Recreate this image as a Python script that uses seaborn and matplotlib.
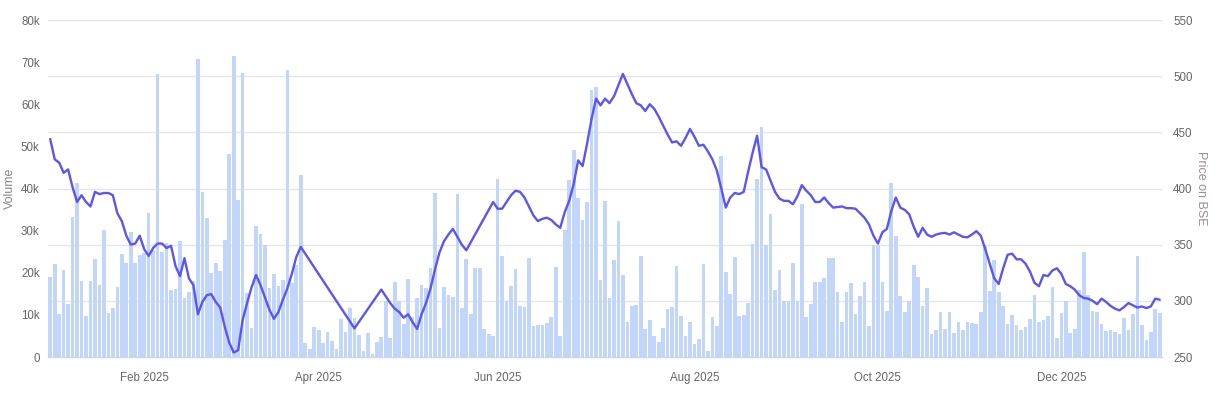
import matplotlib
matplotlib.use("Agg")
import matplotlib.pyplot as plt
import numpy as np
import pandas as pd
import seaborn as sns

# daily volume, in thousands of shares (one value per trading day of 2025)
volume_k = [
    18.9, 22.1, 10.3, 20.6, 12.7, 33.2, 41.2, 18.0, 9.8, 18.1,
    23.3, 17.0, 30.1, 10.5, 11.7, 16.7, 24.5, 22.4, 29.7, 22.4,
    24.3, 24.6, 34.3, 25.5, 67.2, 25.0, 27.0, 16.0, 16.2, 27.6,
    14.0, 15.5, 18.0, 70.7, 39.2, 33.0, 20.0, 22.2, 20.4, 27.8,
    48.1, 71.4, 37.2, 67.3, 15.2, 7.0, 31.0, 29.1, 26.7, 16.4,
    19.7, 16.9, 18.2, 68.1, 17.5, 21.9, 43.2, 3.4, 2.0, 7.2,
    6.3, 3.3, 6.0, 3.9, 2.0, 9.0, 6.0, 11.7, 9.2, 5.2,
    1.5, 5.8, 0.8, 3.5, 4.7, 13.4, 4.6, 17.9, 13.4, 7.9,
    18.6, 9.5, 14.0, 17.0, 16.3, 21.2, 39.0, 7.0, 16.5, 14.8,
    14.3, 38.6, 11.6, 23.3, 10.3, 21.1, 21.2, 6.7, 5.5, 5.0,
    42.3, 23.9, 13.3, 16.8, 20.9, 12.1, 11.9, 23.5, 7.3, 7.6,
    7.7, 8.0, 9.4, 21.4, 5.1, 30.2, 42.1, 49.2, 37.8, 32.6,
    36.7, 63.5, 64.2, 18.3, 37.0, 14.0, 23.0, 32.2, 19.5, 8.3,
    12.2, 12.4, 23.9, 6.6, 8.8, 5.1, 3.5, 7.0, 11.5, 11.9,
    21.6, 9.7, 5.1, 8.2, 3.2, 4.2, 22.1, 1.4, 9.6, 7.4,
    47.6, 20.2, 14.9, 23.8, 9.8, 10.0, 12.8, 26.8, 42.3, 54.7,
    26.6, 34.0, 15.9, 20.7, 13.4, 13.4, 22.3, 13.4, 36.4, 9.5,
    12.6, 17.8, 17.8, 18.8, 23.5, 23.4, 15.4, 8.4, 15.4, 17.5,
    10.1, 14.5, 17.8, 7.4, 26.6, 26.6, 17.8, 10.9, 41.3, 28.8,
    14.5, 10.6, 13.3, 21.8, 19.0, 12.2, 16.4, 5.4, 6.3, 10.8,
    6.7, 10.8, 5.6, 8.2, 6.3, 8.3, 8.1, 7.9, 10.8, 26.6,
    15.7, 23.1, 15.5, 12.0, 7.9, 10.0, 7.5, 6.3, 7.2, 9.0,
    14.8, 8.3, 8.7, 9.8, 16.7, 4.4, 10.5, 13.3, 5.6, 6.6,
    15.8, 24.9, 14.8, 11.0, 10.6, 7.8, 6.2, 6.4, 6.0, 5.5,
    9.2, 6.5, 10.1, 23.9, 7.5, 4.0, 5.9, 11.3, 10.4,
]

# closing price on BSE (NaN = no quote, the line just joins the neighbours)
nan = np.nan
price = [
    444, 426, 423, 414, 417, 401, 388, 394, 388, 384,
    397, 395, 396, 396, 394, 378, 371, 358, 350, 351,
    358, 346, 340, 347, 351, 351, 347, 349, 331, 322,
    338, 320, 314, 288, 299, 305, 306, 299, 294, 277,
    263, 254, 256, 283, 298, 312, 323, 314, 303, 292,
    284, 290, 301, 311, 324, 339, 348, nan, nan, nan,
    nan, nan, nan, nan, nan, nan, nan, nan, 275.5, nan,
    nan, nan, nan, nan, 310, 304, 298, 293, 290, 285,
    288, 281, 275, 288, 298, 311, 328, 343, 353, 359,
    364, 357, 350, 345, nan, nan, nan, nan, nan, 388,
    382, 382, 388, 394, 398, 397, 392, 384, 376, 371,
    373, 374, 372, 368, 365, 379, 389, 404, 425, 420,
    440, 462, 480, 474, 480, 476, 482, 492, 502, 493,
    484, 476, 474, 469, 475, 471, 464, 456, 448, 441,
    442, 438, 445, 453, 446, 438, 439, 433, 426, 416,
    400, 383, 392, 396, 395, 397, 415, 432, 447, 419,
    417, 407, 397, 391, 389, 389, 386, 393, 403, 398,
    394, 388, 388, 392, 387, 383, 383.5, 384, 382.5, 382.5,
    382, 378, 374, 368, 358, 351, 361, 364, 380, 392,
    383, 381, 377, 366, 357, 365, 359, 357, 359, 360,
    360.5, 359, 361, 359, 357, 356.5, 359, 362, 358, 346,
    333, 320, 315, 329, 341, 342, 337, 337, 333, 326,
    316, 313, 323, 322, 327, 329, 324, 315, 313, 310,
    305, 302.5, 302, 300, 297, 302, 299, 295.5, 293, 291.5,
    294.5, 298, 296, 294, 295, 293.5, 295, 302, 301,
]

month_ticks = [21, 60, 100, 144, 185, 226]
month_labels = ["Feb 2025", "Apr 2025", "Jun 2025", "Aug 2025", "Oct 2025", "Dec 2025"]
volume_ticks_k = [0, 10, 20, 30, 40, 50, 60, 70, 80]
price_ticks = [250, 300, 350, 400, 450, 500, 550]

BAR = "#c2d5fb"
LINE = "#5b55f2"
GRID = "#e6e6e6"
AXIS = "#ccd6eb"
TXT = "#666666"

sns.set_style("white")
plt.rcParams["font.family"] = ["Liberation Sans", "DejaVu Sans"]

df = pd.DataFrame({
    "day": np.arange(len(volume_k)),
    "volume": np.array(volume_k) * 1000,
    "price": price,
})

W, H = 1215, 398
fig = plt.figure(figsize=(W / 100, H / 100), dpi=100)
ax = fig.add_axes([48 / W, 1 - 357 / H, (1162 - 48) / W, (357 - 20) / H])

vmax = volume_ticks_k[-1] * 1000
plo, phi = price_ticks[0], price_ticks[-1]
# horizontal grid follows the price axis, drawn under the bars
for p in price_ticks[1:]:
    ax.axhline((p - plo) / (phi - plo) * vmax, color=GRID, lw=1, zorder=0)

sns.barplot(data=df, x="day", y="volume", color=BAR, saturation=1, width=0.82,
            linewidth=0, edgecolor="none", ax=ax, zorder=2)
ax.set_xlim(-0.5, len(df) - 0.5)
ax.set_ylim(0, vmax)
ax.set_yticks([v * 1000 for v in volume_ticks_k])
ax.set_yticklabels(["0" if v == 0 else f"{v}k" for v in volume_ticks_k])
ax.set_xticks(month_ticks)
ax.set_xticklabels(month_labels)
ax.tick_params(axis="y", length=0, pad=6, labelsize=8.3, labelcolor=TXT)
ax.tick_params(axis="x", length=6, width=1, color=AXIS, pad=5, labelsize=8.3,
               labelcolor=TXT, direction="out")
ax.set_xlabel("")
ax.set_ylabel("Volume", color="#888888", fontsize=9)
ax.yaxis.set_label_coords(-0.029, 0.5)
for s in ["top", "right", "left"]:
    ax.spines[s].set_visible(False)
ax.spines["bottom"].set_color(AXIS)
ax.spines["bottom"].set_linewidth(1)

ax2 = ax.twinx()
sns.lineplot(data=df.dropna(), x="day", y="price", color=LINE, lw=1.7, ax=ax2)
ax2.set_ylim(plo, phi)
ax2.set_yticks(price_ticks)
ax2.tick_params(axis="y", length=0, pad=8, labelsize=8.3, labelcolor=TXT)
ax2.set_ylabel("Price on BSE", color="#998f8f", fontsize=9, rotation=270)
ax2.yaxis.set_label_coords(1.040, 0.5)
for s in ax2.spines.values():
    s.set_visible(False)

fig.savefig("out.png", dpi=100)
